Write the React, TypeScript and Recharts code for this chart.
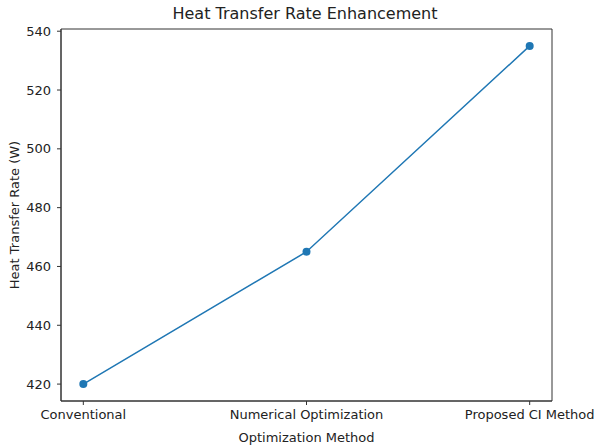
import { LineChart, Line, XAxis, YAxis, Label, ReferenceArea } from 'recharts';

const methods = ['Conventional', 'Numerical Optimization', 'Proposed CI Method'];
const heatRate = [420, 465, 535];
const yTicks = [420, 440, 460, 480, 500, 520, 540];

const data = methods.map((m, i) => ({ idx: i, method: m, rate: heatRate[i] }));

// matplotlib-like 5% margins around the data
const xDomain: [number, number] = [-0.1, 2.1];
const yDomain: [number, number] = [414.25, 540.75];

const FONT = '"DejaVu Sans", sans-serif';
const BLUE = '#1f77b4';
const INK = '#222';
const tickStyle = { fontSize: 13, fill: INK, fontFamily: FONT };

export default function App() {
  return (
    <div style={{ position: 'absolute', left: 0, top: 0, width: 595, height: 445, background: '#fff' }}>
      <LineChart
        width={595}
        height={445}
        data={data}
        margin={{ top: 29, right: 43, left: 21, bottom: 14 }}
      >
        <text x={305} y={19} textAnchor="middle" fontSize={16} fontFamily={FONT} fill={INK}>
          Heat Transfer Rate Enhancement
        </text>
        <XAxis
          dataKey="idx"
          type="number"
          domain={xDomain}
          ticks={[0, 1, 2]}
          tickFormatter={(v: number) => methods[v]}
          tick={tickStyle}
          stroke="#333"
          tickSize={4}
          tickMargin={5}
          height={30}
          interval={0}
        >
          <Label value="Optimization Method" position="insideBottom" offset={-11} style={{ fontSize: 13, fill: INK, fontFamily: FONT }} />
        </XAxis>
        <YAxis
          type="number"
          domain={yDomain}
          ticks={yTicks}
          tick={tickStyle}
          stroke="#333"
          tickSize={4}
          tickMargin={6}
          width={40}
        >
          <Label value="Heat Transfer Rate (W)" angle={-90} position="insideLeft" offset={-7} style={{ fontSize: 13, fill: INK, fontFamily: FONT, textAnchor: 'middle' }} />
        </YAxis>
        <ReferenceArea
          x1={xDomain[0]}
          x2={xDomain[1]}
          y1={yDomain[0]}
          y2={yDomain[1]}
          fill="none"
          stroke="#333"
          strokeWidth={1}
          ifOverflow="visible"
        />
        <Line
          type="linear"
          dataKey="rate"
          stroke={BLUE}
          strokeWidth={1.5}
          dot={{ r: 4, fill: BLUE, stroke: BLUE, strokeWidth: 0 }}
          activeDot={false}
          isAnimationActive={false}
        />
      </LineChart>
    </div>
  );
}
